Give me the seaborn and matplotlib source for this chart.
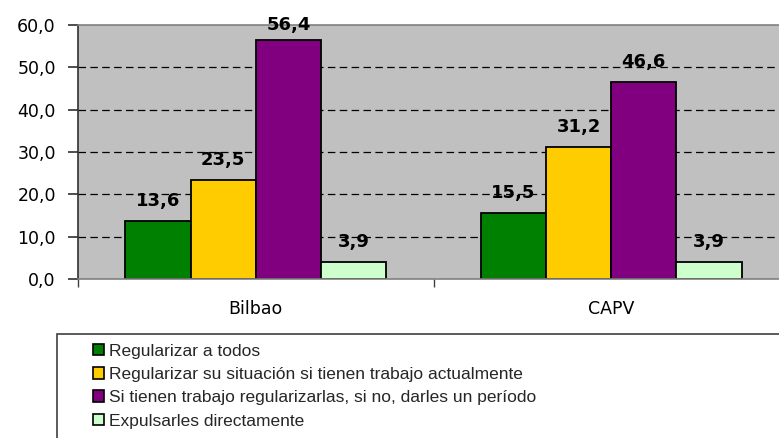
import matplotlib
matplotlib.use("Agg")
import matplotlib.pyplot as plt
from matplotlib.patches import Rectangle, Patch
from matplotlib.ticker import FuncFormatter, FixedLocator
import seaborn as sns
import pandas as pd

# Survey results: opinion on migrants in irregular situation (%)
categories = ["Bilbao", "CAPV"]
series = [
    "Regularizar a todos",
    "Regularizar su situación si tienen trabajo actualmente",
    "Si tienen trabajo regularizarlas, si no, darles un período",
    "Expulsarles directamente",
]
bilbao_values = [13.6, 23.5, 56.4, 3.9]
capv_values = [15.5, 31.2, 46.6, 3.9]
y_ticks = [0, 10, 20, 30, 40, 50, 60]
colors = ["#008000", "#FFCC00", "#800080", "#CCFFCC"]

rows = []
for cat, vals in zip(categories, [bilbao_values, capv_values]):
    for s, v in zip(series, vals):
        rows.append({"zona": cat, "respuesta": s, "valor": v})
df = pd.DataFrame(rows)

sns.set_theme(style="white")
plt.rcParams["font.family"] = ["Liberation Sans", "DejaVu Sans"]
wide_font = ["DejaVu Sans"]

fig = plt.figure(figsize=(7.79, 4.38), dpi=100)
W, H = 779, 438
ax = fig.add_axes([78 / W, (H - 279) / H, 711 / W, 254 / H])
ax.set_facecolor("#C0C0C0")

sns.barplot(
    data=df, x="zona", y="valor", hue="respuesta", hue_order=series,
    order=categories, palette=colors, width=0.733, edgecolor="black",
    linewidth=1.3, saturation=1, ax=ax, legend=False,
)

ax.set_ylim(0, 60)
ax.set_xlim(-0.5, 1.5)
ax.set_xlabel("")
ax.set_ylabel("")

# dashed horizontal gridlines
for t in y_ticks[1:-1]:
    ax.axhline(t, color="black", lw=0.9, ls=(0, (6, 3.5)), zorder=0.5)
ax.set_axisbelow(True)

ax.yaxis.set_major_locator(FixedLocator(y_ticks))
ax.yaxis.set_major_formatter(FuncFormatter(lambda v, p: f"{v:.1f}".replace(".", ",")))
ax.tick_params(axis="y", direction="out", length=7, width=1.2, color="#303030",
               pad=9, left=True)
ax.tick_params(axis="x", length=0, pad=15)
ax.set_xticks([-0.5, 0.5, 1.5], minor=True)
ax.tick_params(axis="x", which="minor", direction="out", length=6, width=1,
               color="#404040", bottom=True)
for lab in ax.get_yticklabels() + ax.get_xticklabels():
    lab.set_family(wide_font)
    lab.set_fontsize(12.5)
    lab.set_color("black")

for side in ["left", "bottom", "top"]:
    ax.spines[side].set_visible(True)
    ax.spines[side].set_linewidth(1.2)
ax.spines["left"].set_color("#303030")
ax.spines["bottom"].set_color("#808080")
ax.spines["top"].set_color("#808080")
ax.spines["right"].set_visible(False)

# value labels above bars, kept inside the plotting area
fig.canvas.draw()
axes_top = ax.transAxes.transform((0, 1))[1]
for container in ax.containers:
    for bar in container:
        v = bar.get_height()
        xc = bar.get_x() + bar.get_width() / 2
        top_px = ax.transData.transform((xc, v))[1]
        off = min(20, axes_top - top_px)
        ax.annotate(f"{v:.1f}".replace(".", ","), (xc, v),
                    xytext=(0, off), textcoords="offset pixels",
                    ha="center", va="center", fontsize=13, fontweight="bold",
                    family=wide_font, color="black", annotation_clip=False)

# legend box
fig.patches.append(Rectangle((57 / W, -0.1), 0.99, (H - 334) / H + 0.1,
                             transform=fig.transFigure, facecolor="white",
                             edgecolor="#404040", lw=1.2))
handles = [Patch(facecolor=c, edgecolor="black", lw=1.2) for c in colors]
fig.legend(handles, series, loc="upper left",
           bbox_to_anchor=(84 / W, (H - 335) / H), frameon=False,
           fontsize=12.5, handlelength=0.65, handleheight=0.65,
           handletextpad=0.3, labelspacing=0.48, borderpad=0)

fig.savefig("out.png", dpi=100)
